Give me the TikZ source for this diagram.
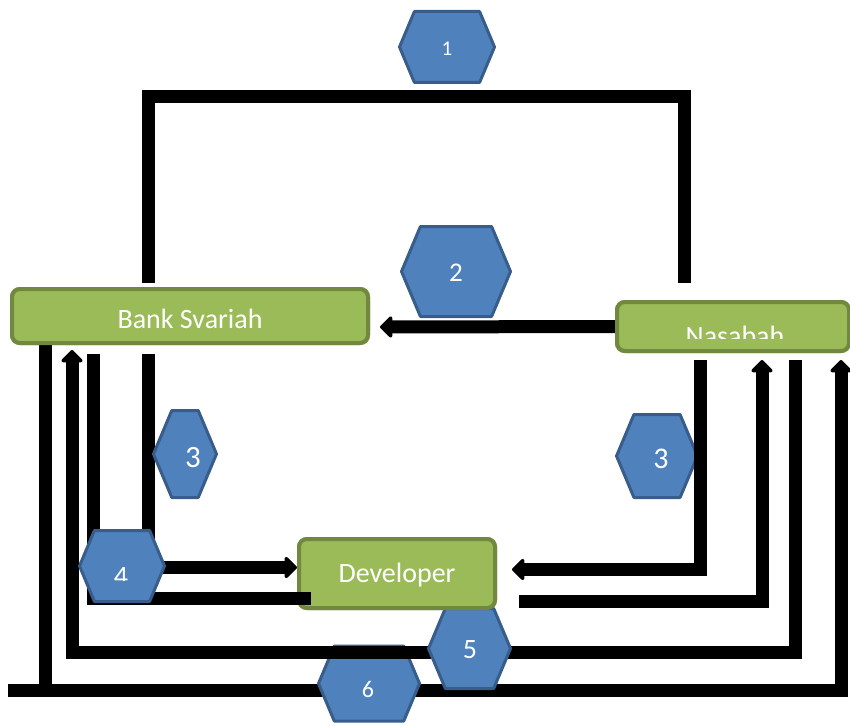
\documentclass[tikz,border=0pt]{standalone}
\usepackage{fontspec}
\setmainfont{Carlito}
\usetikzlibrary{arrows.meta}

\definecolor{boxgreen}{HTML}{9BBB59}
\definecolor{boxrim}{HTML}{71893F}
\definecolor{hexblue}{HTML}{4F81BD}
\definecolor{hexrim}{HTML}{385D8A}

% hexagon: name, x, y, half width, half height
\newcommand{\hexa}[5]{%
  \draw[hexagon] ({#2-#4},#3) -- ({#2-#4+0.42*#5},{#3-#5}) -- ({#2+#4-0.42*#5},{#3-#5})
    -- ({#2+#4},#3) -- ({#2+#4-0.42*#5},{#3+#5}) -- ({#2-#4+0.42*#5},{#3+#5}) -- cycle;
  \coordinate (#1) at (#2,#3);}

\begin{document}
\begin{tikzpicture}[x=1pt, y=-1pt,
    party/.style = {draw=boxrim, fill=boxgreen, line width=4pt, rounded corners=8pt, inner sep=0pt},
    partytext/.style = {text=white, anchor=base, inner sep=0pt, font=\fontsize{28}{28}\selectfont},
    hexagon/.style = {draw=hexrim, fill=hexblue, line width=3pt, line join=round},
    num/.style = {text=white, anchor=base, inner sep=0pt},
    link/.style = {line width=13pt, line join=miter},
    arrow/.style = {link, -{Triangle[length=13pt,width=25pt,round]}}]

    \useasboundingbox (0,0) rectangle (850,722);

    % Parties
    \node [party, minimum width=356pt, minimum height=54pt] (bank) at (190,316) {};
    \node [party, minimum width=232pt, minimum height=49pt] (nasabah) at (733,326.5) {};
    \node [party, minimum width=196pt, minimum height=69pt] (developer) at (397,573.5) {};
    \coordinate (e5) at ([xshift=22pt,yshift=-28pt]developer.east);
    \coordinate (e6) at (8,690);

    % Flows behind the parties
    \draw [link] ([xshift=-42pt,yshift=4pt]bank.north) |- (447,97) -| ([xshift=-49pt,yshift=17pt]nasabah.north);
    \draw [arrow] (nasabah.west) -- ([xshift=10pt,yshift=-11pt]bank.east);
    \draw [link] ([xshift=-145pt]bank.south) -- (45,690);
    \draw [arrow] (e6) -| ([xshift=108pt,yshift=-7pt]nasabah.south);
    \hexa{h6}{369}{683.5}{50.5}{37.5}
    \draw [arrow] ([xshift=62pt,yshift=-7pt]nasabah.south) |- (72,652) -- ([xshift=-118pt,yshift=-5pt]bank.south);
    \hexa{h5}{469.5}{648.5}{41}{40}
    \hexa{h3b}{657}{456}{40.5}{41.5}
    \draw [arrow] ([xshift=-33pt,yshift=-7pt]nasabah.south) |- ([xshift=15pt,yshift=4pt]developer.east);

    % Parties again, on top
    \node [party, minimum width=356pt, minimum height=54pt] at (bank) {};
    \node [party, minimum width=232pt, minimum height=49pt] at (nasabah) {};
    \node [party, minimum width=196pt, minimum height=69pt] at (developer) {};
    \node [partytext] (tbank) at (190,328) {Bank Svariah};
    \node [partytext] (tdev) at (397,582) {Developer};
    \begin{scope}
      \clip (615,300) rectangle (851,338);
      \node [partytext] (tnas) at (735,345) {Nasabah};
    \end{scope}

    % Flows in front
    \draw [link] ([xshift=-97pt,yshift=-9pt]bank.south) |- ([xshift=14pt,yshift=-25pt]developer.west);
    \draw [arrow] ([xshift=-42pt,yshift=-9pt]bank.south) |- ([yshift=6pt]developer.west);
    \draw [arrow] (e5) -| ([xshift=29pt,yshift=-7pt]nasabah.south);

    % Steps
    \hexa{h1}{447}{47}{47.5}{35.5}
    \hexa{h2}{456}{271.5}{54.5}{45}
    \hexa{h3a}{185}{454}{31.5}{43.5}
    \hexa{h4}{122}{566}{42.5}{35.5}
    \node [num, font=\fontsize{21}{21}\selectfont] (n1) at (447,56) {1};
    \node [num, font=\fontsize{27}{27}\selectfont] (n2) at (456,281) {2};
    \node [num, font=\fontsize{31}{31}\selectfont] (n3a) at (193,467) {3};
    \node [num, font=\fontsize{30}{30}\selectfont] (n3b) at (661,468) {3};
    \begin{scope}
      \clip (80,529) rectangle (166,580.5);
      \node [num, font=\fontsize{28}{28}\selectfont] (n4) at (121,585) {4};
    \end{scope}
    \node [num, font=\fontsize{28}{28}\selectfont] (n5) at (470,658) {5};
    \node [num, font=\fontsize{24}{24}\selectfont] (n6) at (368,697) {6};
\end{tikzpicture}
\end{document}
